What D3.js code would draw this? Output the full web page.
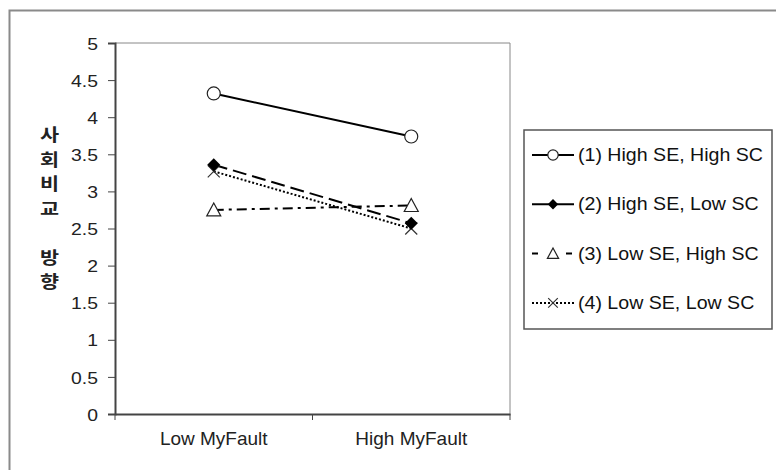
<!DOCTYPE html>
<html><head><meta charset="utf-8">
<script src="https://cdn.jsdelivr.net/npm/d3@7"></script>
<style>body{margin:0;background:#fff}svg{display:block;font-family:Arial,"Liberation Sans",sans-serif}</style>
</head><body><svg id="c" width="776" height="470"></svg>
<script>
const categories = ["Low MyFault", "High MyFault"];
const seriesNames = ["(1) High SE, High SC", "(2) High SE, Low SC", "(3) Low SE, High SC", "(4) Low SE, Low SC"];
const s1 = [4.32, 3.74];
const s2 = [3.36, 2.57];
const s3 = [2.75, 2.81];
const s4 = [3.27, 2.50];
const yTicks = [0, 0.5, 1, 1.5, 2, 2.5, 3, 3.5, 4, 4.5, 5];
const yTitle = ["사", "회", "비", "교", "", "방", "향"];

const FONT = "Arial, 'Liberation Sans', sans-serif";
const svg = d3.select("#c");
// outer border
svg.append("rect").attr("x", 9.5).attr("y", 10.5).attr("width", 780).attr("height", 480)
  .attr("fill", "#fff").attr("stroke", "#8a8a8a").attr("stroke-width", 2);

const L = 115, R = 510, T = 43, B = 414;
const x = d3.scaleBand().domain(categories).range([L, R]);
const y = d3.scaleLinear().domain([0, 5]).range([B, T]);

// plot area top/right border
svg.append("path").attr("d", `M${L},${T}H${R}V${B}`).attr("fill", "none").attr("stroke", "#888").attr("stroke-width", 1);

const yAxis = svg.append("g").attr("transform", `translate(${L},0)`)
  .call(d3.axisLeft(y).tickValues(yTicks).tickSize(7).tickPadding(0).tickFormat(d3.format("")));
yAxis.select(".domain").attr("stroke", "#444").attr("stroke-width", 2);
yAxis.selectAll(".tick line").attr("stroke", "#444").attr("stroke-width", 1);
yAxis.selectAll("text").attr("x", -15).attr("dy", "0.36em")
  .attr("font-size", 17).attr("fill", "#222").attr("font-family", FONT)
  .attr("transform", "scale(1.14,1)");

const xAxis = svg.append("g").attr("transform", `translate(0,${B})`)
  .call(d3.axisBottom(x).tickSize(0).tickPadding(0));
xAxis.select(".domain").attr("stroke", "#444").attr("stroke-width", 2);
xAxis.selectAll("text").attr("y", 31).attr("dy", 0).attr("font-size", 19).attr("fill", "#222").attr("font-family", FONT);
// category boundary ticks
const bounds = [L, L + x.bandwidth(), R];
svg.append("g").selectAll("line").data(bounds).join("line")
  .attr("x1", d => d).attr("x2", d => d).attr("y1", B).attr("y2", B + 6)
  .attr("stroke", "#444").attr("stroke-width", 1);

// y title
svg.append("g").selectAll("text").data(yTitle).join("text")
  .attr("transform", (d, i) => `translate(49.5,${141 + i * 24.5}) scale(1.22,1)`)
  .attr("text-anchor", "middle").attr("font-size", 17).attr("font-weight", "bold")
  .attr("font-family", "'Noto Sans CJK KR', sans-serif").attr("fill", "#222")
  .text(d => d);

const series = [
  {name: seriesNames[0], vals: s1, dash: null, marker: "circle", legDash: null},
  {name: seriesNames[1], vals: s2, dash: "14,6", marker: "diamond", legDash: null},
  {name: seriesNames[2], vals: s3, dash: "10,5,3,5", marker: "triangle", legDash: "6,28"},
  {name: seriesNames[3], vals: s4, dash: "2,2", marker: "x", legDash: "2,2"}
];

function drawMarker(g, type, cx, cy, k) {
  if (type === "circle") {
    g.append("circle").attr("cx", cx).attr("cy", cy).attr("r", 6.5 * k).attr("fill", "#fff").attr("stroke", "#222").attr("stroke-width", 1.2);
  } else if (type === "diamond") {
    const r = 6.5 * k;
    g.append("path").attr("d", `M${cx},${cy-r}L${cx+r},${cy}L${cx},${cy+r}L${cx-r},${cy}Z`).attr("fill", "#000");
  } else if (type === "triangle") {
    g.append("path").attr("d", `M${cx},${cy-7*k}L${cx+7*k},${cy+6*k}L${cx-7*k},${cy+6*k}Z`).attr("fill", "#fff").attr("stroke", "#222").attr("stroke-width", 1.2);
  } else {
    const r = 6 * k;
    g.append("path").attr("d", `M${cx-r},${cy-r}L${cx+r},${cy+r}M${cx-r},${cy+r}L${cx+r},${cy-r}`).attr("stroke", "#333").attr("stroke-width", 1.2);
  }
}

const line = d3.line().x((d, i) => x(categories[i]) + x.bandwidth() / 2).y(d => y(d));
const plot = svg.append("g");
series.slice().reverse().forEach(s => {
  plot.append("path").datum(s.vals).attr("d", line).attr("fill", "none")
    .attr("stroke", "#000").attr("stroke-width", 2)
    .attr("stroke-dasharray", s.dash);
});
series.slice().reverse().forEach(s => {
  s.vals.forEach((v, i) => drawMarker(plot, s.marker, x(categories[i]) + x.bandwidth() / 2, y(v), 1));
});

// legend
const lg = svg.append("g");
lg.append("rect").attr("x", 524).attr("y", 130).attr("width", 248).attr("height", 199)
  .attr("fill", "#fff").attr("stroke", "#555").attr("stroke-width", 1.5);
series.forEach((s, i) => {
  const ly = 155 + i * 49.3;
  lg.append("line").attr("x1", 532).attr("x2", 574).attr("y1", ly).attr("y2", ly)
    .attr("stroke", "#000").attr("stroke-width", 2).attr("stroke-dasharray", s.legDash);
  drawMarker(lg, s.marker, 553, ly, 0.8);
  lg.append("text").attr("transform", `translate(578,${ly + 6}) scale(1.12,1)`)
    .attr("font-size", 17.5).attr("fill", "#111").text(s.name);
});
</script></body></html>
